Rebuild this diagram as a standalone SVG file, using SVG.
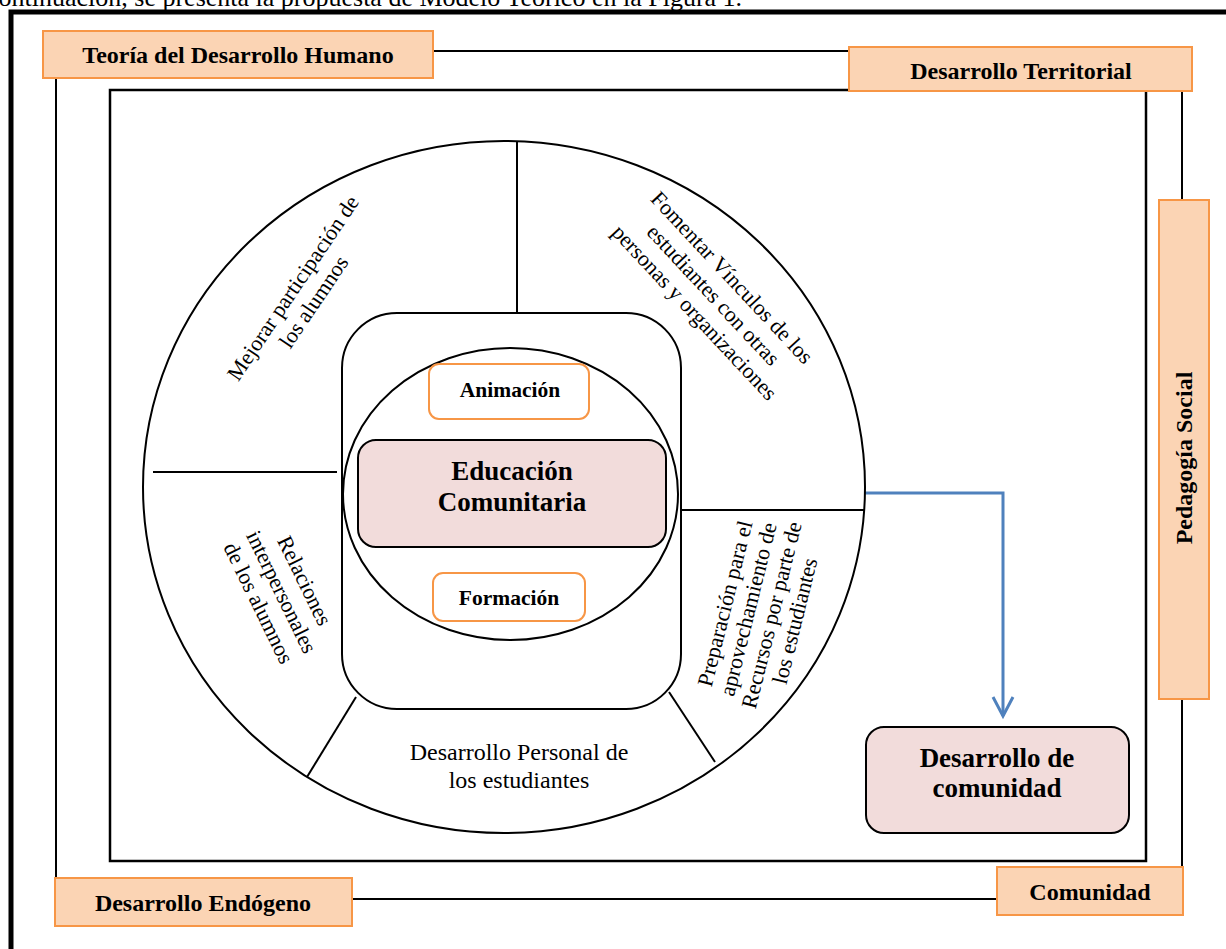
<svg xmlns="http://www.w3.org/2000/svg" width="1226" height="949" viewBox="0 0 1226 949">
<defs>
<style>
text{font-family:"Liberation Serif","Times New Roman",serif;fill:#000}
.lbl{font-size:24px;font-weight:bold;text-anchor:middle}
.big{font-size:27px;font-weight:bold;text-anchor:middle}
.sm{font-size:21.5px;font-weight:bold;text-anchor:middle}
.reg{font-size:22px;text-anchor:middle}
.reg24{font-size:24px;text-anchor:middle}
.peach{fill:#FBD4B4;stroke:#F79646;stroke-width:2}
.obox{fill:#fff;stroke:#F79646;stroke-width:2}
.pink{fill:#F2DCDB;stroke:#000;stroke-width:2}
.ln{fill:none;stroke:#000;stroke-width:2}
.thick{fill:none;stroke:#000;stroke-width:5}
.blue{fill:none;stroke:#4F81BD;stroke-width:3}
</style>
<marker id="vhead" markerUnits="userSpaceOnUse" markerWidth="30" markerHeight="30" refX="20" refY="11" orient="auto" overflow="visible">
<path d="M1,1 L20,11 L1,21" fill="none" stroke="#4F81BD" stroke-width="3"/>
</marker>
</defs>
<rect width="1226" height="949" fill="#fff"/>
<text x="-13" y="6" style="font-size:26px">continuación, se presenta la propuesta de Modelo Teórico en la Figura 1.</text>
<g id="connectors">
<path class="thick" d="M11,949 L11,12 L1226,12"/>
<path class="ln" d="M433,51 L849,51"/>
<path class="ln" d="M56,78 L56,878"/>
<path class="ln" d="M352,899 L997,899"/>
<path class="ln" d="M1182,91 L1182,200"/>
<path class="ln" d="M1182,699 L1182,867"/>
<rect class="ln" x="110" y="90" width="1036" height="771" style="stroke-width:2.5"/>
<path class="blue" d="M865,493 L1003,493 L1003,716" marker-end="url(#vhead)"/>
</g>
<g id="outer-circle">
<ellipse class="ln" cx="504" cy="487" rx="361" ry="346"/>
<path class="ln" d="M517,141 L517,313"/>
<path class="ln" d="M153,472 L337,472"/>
<path class="ln" d="M682,510 L865,510"/>
<path class="ln" d="M356,697 L307,777"/>
<path class="ln" d="M669,692 L715,762"/>
</g>
<g id="seg-mejorar">
<g transform="translate(299,292) rotate(-56)">
<text class="reg" x="0" y="0">Mejorar participación de</text>
<text class="reg" x="0" y="25">los alumnos</text>
</g>
</g>
<g id="seg-fomentar">
<g transform="translate(708,300) rotate(47)">
<text class="reg" x="0" y="-25.6">Fomentar Vínculos de los</text>
<text class="reg" x="0" y="0">estudiantes con otras</text>
<text class="reg" x="0" y="25.6">personas y organizaciones</text>
</g>
</g>
<g id="seg-relaciones">
<g transform="translate(275,595) rotate(64)">
<text class="reg" x="0" y="-25.6">Relaciones</text>
<text class="reg" x="0" y="0">interpersonales</text>
<text class="reg" x="0" y="25.6">de los alumnos</text>
</g>
</g>
<g id="seg-preparacion">
<g transform="translate(767,614) rotate(-76)">
<text class="reg" x="0" y="-36">Preparación para el</text>
<text class="reg" x="0" y="-12">aprovechamiento de</text>
<text class="reg" x="0" y="12">Recursos por parte de</text>
<text class="reg" x="0" y="36">los estudiantes</text>
</g>
</g>
<g id="seg-personal">
<text class="reg24" x="519" y="760">Desarrollo Personal de</text>
<text class="reg24" x="519" y="788">los estudiantes</text>
</g>
<g id="core">
<rect class="ln" x="342" y="313" width="339" height="396" rx="55"/>
<ellipse class="ln" cx="510.5" cy="494" rx="167.5" ry="146"/>
</g>
<g id="animacion">
<rect class="obox" x="429" y="364" width="160" height="55" rx="10"/>
<text class="sm" x="510" y="397">Animación</text>
</g>
<g id="educacion">
<rect class="pink" x="358" y="440" width="308" height="107" rx="18"/>
<text class="big" x="512" y="480">Educación</text>
<text class="big" x="512" y="511">Comunitaria</text>
</g>
<g id="formacion">
<rect class="obox" x="433" y="573" width="152" height="48" rx="10"/>
<text class="sm" x="509" y="605">Formación</text>
</g>
<g id="desarrollo-comunidad">
<rect class="pink" x="866" y="727" width="263" height="106" rx="18"/>
<text class="big" x="997" y="767">Desarrollo de</text>
<text class="big" x="997" y="797">comunidad</text>
</g>
<g id="teoria">
<rect class="peach" x="43" y="31" width="390" height="47"/>
<text class="lbl" x="238" y="63">Teoría del Desarrollo Humano</text>
</g>
<g id="territorial">
<rect class="peach" x="849" y="47" width="343" height="44"/>
<text class="lbl" x="1021" y="79">Desarrollo Territorial</text>
</g>
<g id="pedagogia">
<rect class="peach" x="1159" y="200" width="50" height="499"/>
<text class="lbl" transform="translate(1192,458) rotate(-90)">Pedagogía Social</text>
</g>
<g id="endogeno">
<rect class="peach" x="55" y="878" width="297" height="48"/>
<text class="lbl" x="203" y="911">Desarrollo Endógeno</text>
</g>
<g id="comunidad">
<rect class="peach" x="997" y="867" width="186" height="48"/>
<text class="lbl" x="1090" y="900">Comunidad</text>
</g>
</svg>
